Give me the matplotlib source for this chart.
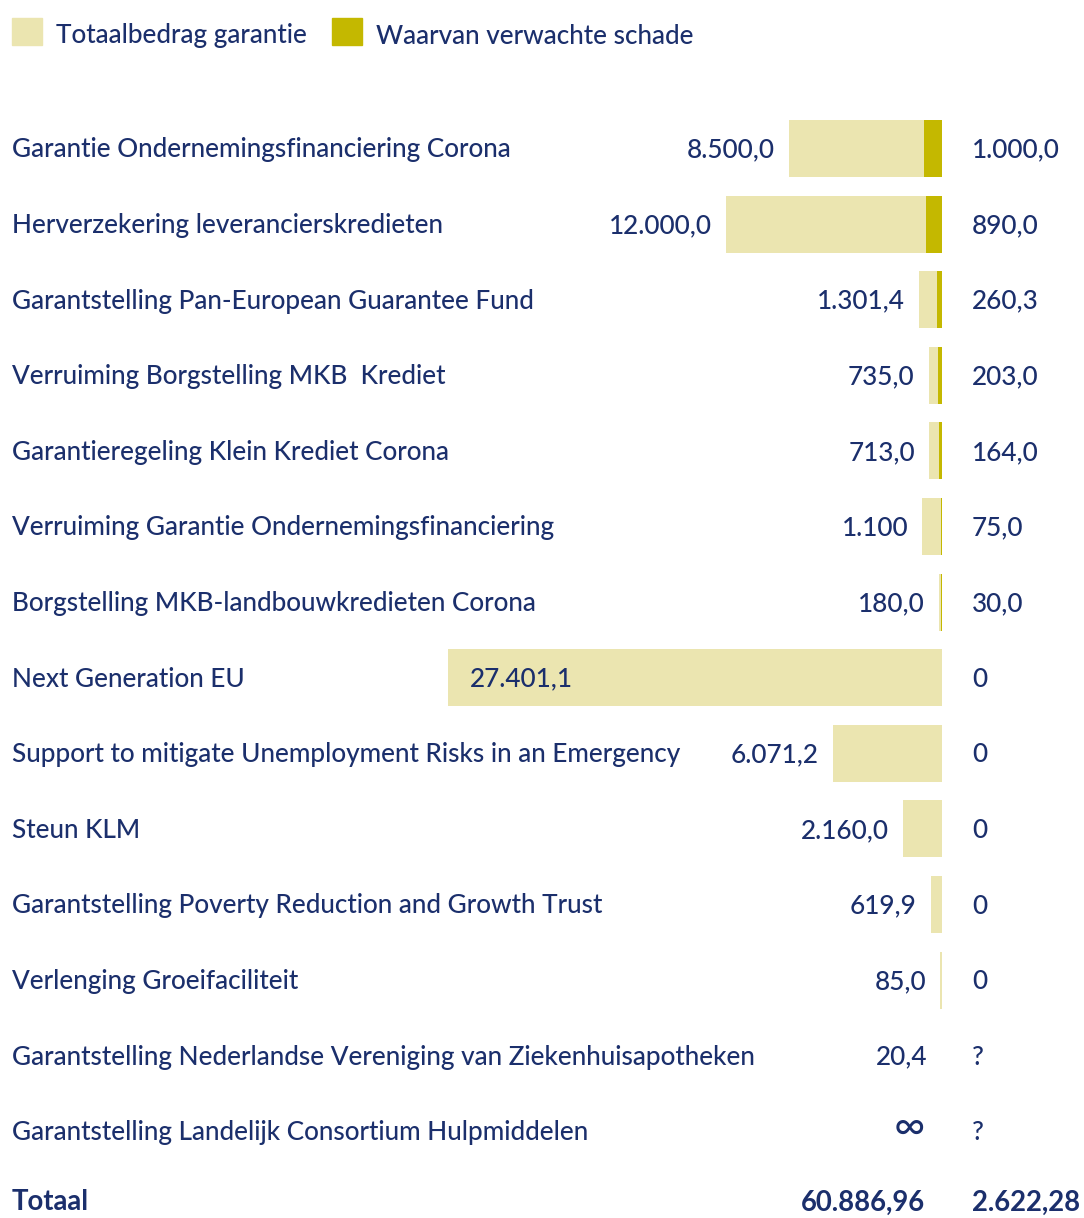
import matplotlib.pyplot as plt
from matplotlib.patches import Rectangle

# Chart data
categories = [
    "Garantie Ondernemingsfinanciering Corona",
    "Herverzekering leverancierskredieten",
    "Garantstelling Pan-European Guarantee Fund",
    "Verruiming Borgstelling MKB  Krediet",
    "Garantieregeling Klein Krediet Corona",
    "Verruiming Garantie Ondernemingsfinanciering",
    "Borgstelling MKB-landbouwkredieten Corona",
    "Next Generation EU",
    "Support to mitigate Unemployment Risks in an Emergency",
    "Steun KLM",
    "Garantstelling Poverty Reduction and Growth Trust",
    "Verlenging Groeifaciliteit",
    "Garantstelling Nederlandse Vereniging van Ziekenhuisapotheken",
    "Garantstelling Landelijk Consortium Hulpmiddelen",
]
totals = [8500.0, 12000.0, 1301.4, 735.0, 713.0, 1100.0, 180.0,
          27401.1, 6071.2, 2160.0, 619.9, 85.0, 20.4, 0.0]
damage = [1000.0, 890.0, 260.3, 203.0, 164.0, 75.0, 30.0,
          0.0, 0.0, 0.0, 0.0, 0.0, 0.0, 0.0]
total_labels = ["8.500,0", "12.000,0", "1.301,4", "735,0", "713,0", "1.100",
                "180,0", "27.401,1", "6.071,2", "2.160,0", "619,9", "85,0",
                "20,4", "\u221e"]
damage_labels = ["1.000,0", "890,0", "260,3", "203,0", "164,0", "75,0",
                 "30,0", "0", "0", "0", "0", "0", "?", "?"]
sum_label = "Totaal"
sum_total = "60.886,96"
sum_damage = "2.622,28"
legend_labels = ["Totaalbedrag garantie", "Waarvan verwachte schade"]

LIGHT = "#ebe5b0"
DARK = "#c4b800"
NAVY = "#1b2f6c"
FONT = ["Lato", "DejaVu Sans"]

W, H = 1084, 1218
plt.rcParams['font.family'] = FONT

fig = plt.figure(figsize=(W / 100, H / 100), dpi=100)
ax = fig.add_axes([0, 0, 1, 1])
ax.axis("off")

# pixel layout: bars end at x=942, 27401.1 spans 494 px
x0_px = 942
units_per_px = 27401.1 / 494
ax.set_xlim(x0_px * units_per_px, -(W - x0_px) * units_per_px)
row_px = 75.6
first_px = 148.5
ax.set_ylim((H - first_px) / row_px, -first_px / row_px)

rows = list(range(len(categories)))
ax.barh(rows, totals, height=0.755, color=LIGHT, left=0)
ax.barh(rows, damage, height=0.755, color=DARK, left=0)

fs = 18.8
fw = "medium"
dy = 1.5 / row_px  # nudge text a touch lower
lx = 12 / W
rx = 972 / W
for i, name in enumerate(categories):
    ax.text(lx, i + dy, name, transform=ax.get_yaxis_transform(), ha="left",
            va="center", fontsize=fs, color=NAVY, fontweight=fw)
    ax.text(rx, i + dy, damage_labels[i], transform=ax.get_yaxis_transform(),
            ha="left", va="center", fontsize=fs, color=NAVY, fontweight=fw)
    if totals[i] > 20000:
        ax.annotate(total_labels[i], (totals[i], i + dy), xytext=(22, 0),
                    textcoords="offset pixels", ha="left", va="center",
                    fontsize=fs, color=NAVY, fontweight=fw)
    elif totals[i] > 0:
        ax.annotate(total_labels[i], (totals[i], i + dy), xytext=(-14, 0),
                    textcoords="offset pixels", ha="right", va="center",
                    fontsize=fs, color=NAVY, fontweight=fw)
    else:
        ax.annotate(total_labels[i], (0, i), xytext=(-17, 3),
                    textcoords="offset pixels", ha="right", va="center",
                    fontsize=fs + 12, color=NAVY)

# total row (kept just inside the bottom edge)
n = len(categories) - 4.5 / row_px
ax.text(lx, n, sum_label, transform=ax.get_yaxis_transform(), ha="left",
        va="center", fontsize=fs + 1, color=NAVY, fontweight="bold")
ax.annotate(sum_total, (0, n), xytext=(-17, 0),
            textcoords="offset pixels", ha="right", va="center",
            fontsize=fs + 1, color=NAVY, fontweight="bold")
ax.text(rx, n, sum_damage, transform=ax.get_yaxis_transform(),
        ha="left", va="center", fontsize=fs + 1, color=NAVY,
        fontweight="bold")

# legend
for (sx, tx), lab, col in zip([(12, 56), (332, 376)], legend_labels,
                              [LIGHT, DARK]):
    fig.patches.append(Rectangle((sx / W, 1 - 45 / H), 30 / W, 27 / H,
                                 transform=fig.transFigure, color=col))
    fig.text(tx / W, 1 - 36 / H, lab, ha="left", va="center", fontsize=fs,
             color=NAVY, fontweight=fw)

fig.savefig("out.png", dpi=100)
